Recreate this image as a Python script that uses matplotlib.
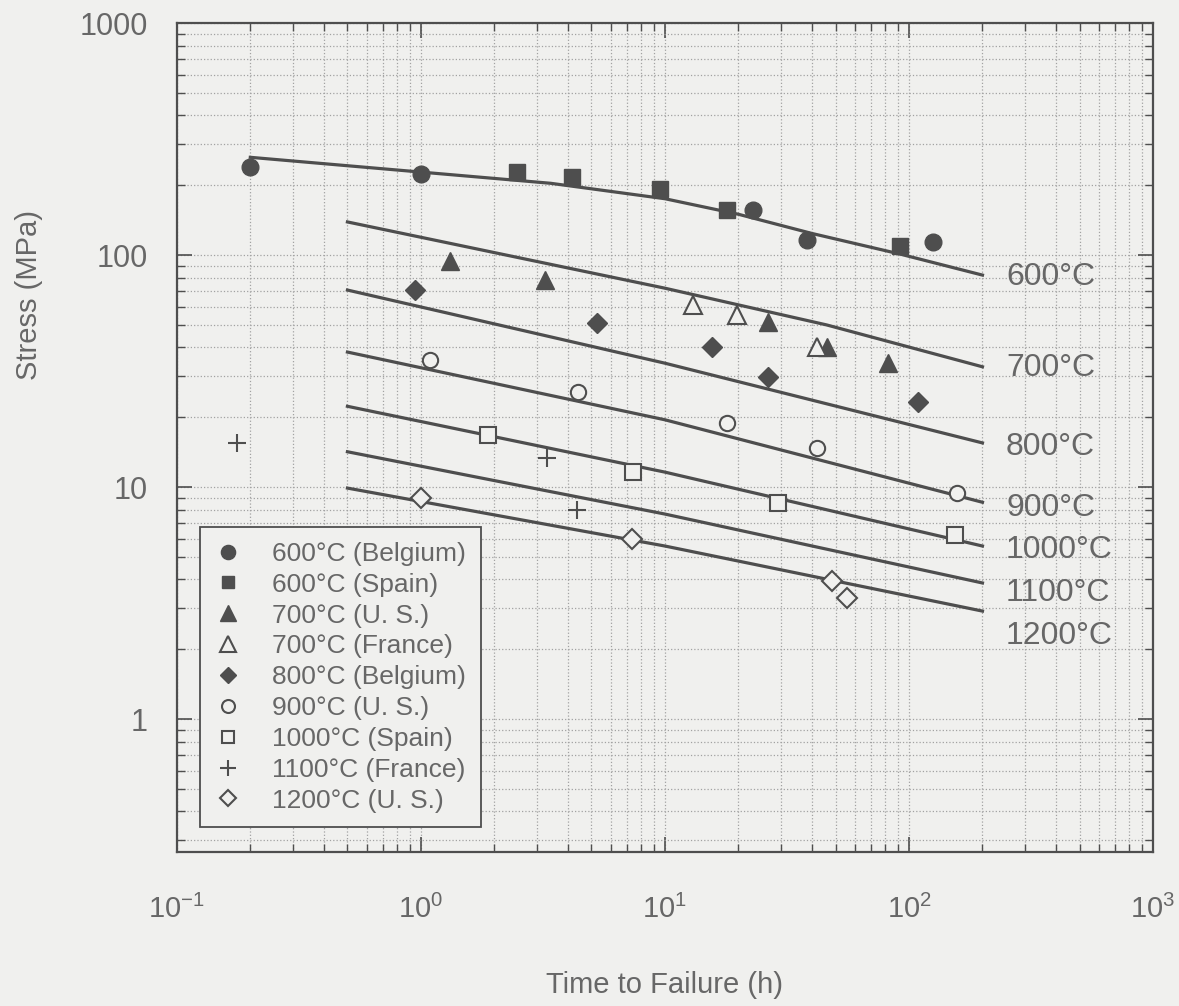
import math
import matplotlib
matplotlib.use("Agg")
import matplotlib.pyplot as plt
from matplotlib.ticker import LogLocator, FixedLocator, FuncFormatter, NullFormatter

plt.rcParams['font.family'] = ['Liberation Sans', 'DejaVu Sans']
plt.rcParams['mathtext.fontset'] = 'custom'
plt.rcParams['mathtext.rm'] = 'Liberation Sans'

# --- Curvas ajustadas (tiempo h, esfuerzo MPa) ---
curve_labels = ["600°C", "700°C", "800°C", "900°C", "1000°C", "1100°C", "1200°C"]
curve_t = [
    [0.2, 1.0, 3.4, 10, 20, 40, 92, 200],
    [0.5, 10, 46, 200],
    [0.5, 10, 200],
    [0.5, 10, 200],
    [0.5, 10, 200],
    [0.5, 10, 200],
    [0.5, 10, 200],
]
curve_s = [
    [264, 228, 204, 175, 150, 124, 101, 82],
    [139, 72, 50, 33],
    [70.7, 34.2, 15.5],
    [38.2, 19.5, 8.6],
    [22.3, 11.6, 5.57],
    [14.2, 7.65, 3.86],
    [9.9, 5.57, 2.92],
]

# --- Datos experimentales ---
series_labels = ["600°C (Belgium)", "600°C (Spain)", "700°C (U. S.)", "700°C (France)",
                 "800°C (Belgium)", "900°C (U. S.)", "1000°C (Spain)", "1100°C (France)",
                 "1200°C (U. S.)"]
series_t = [
    [0.2, 1.0, 22.9, 38.2, 125],
    [2.47, 4.16, 9.55, 17.9, 91.8],
    [1.31, 3.22, 26.5, 46.1, 82],
    [13.0, 19.7, 42],
    [0.945, 5.26, 15.6, 26.4, 109],
    [1.09, 4.4, 17.9, 42, 157],
    [1.88, 7.4, 29, 154],
    [0.176, 3.28, 4.36],
    [1.0, 7.33, 48.3, 55.7],
]
series_s = [
    [239, 223, 156, 116, 114],
    [228, 217, 192, 156, 110],
    [94, 78, 51.4, 40.1, 34.2],
    [60.8, 55, 40.1],
    [70.7, 50.9, 40, 29.8, 23.2],
    [35.2, 25.6, 18.9, 14.7, 9.42],
    [16.8, 11.6, 8.5, 6.2],
    [15.5, 13.3, 7.96],
    [9.0, 5.97, 3.94, 3.33],
]

fondo = '#f0f0ee'
gris = '#4e4e4e'
texto = '#676767'

# marcador, relleno, tamaño
estilos = [('o', True, 12), ('s', True, 11), ('^', True, 13), ('^', False, 13),
           ('D', True, 10), ('o', False, 11), ('s', False, 11), ('+', True, 13),
           ('D', False, 10)]
label_dy = [-1.4, -0.7, -2.9, -4.3, -2.9, -7.2, -18]


def generar_grafica():
    fig = plt.figure(figsize=(11.79, 10.06), dpi=100, facecolor=fondo)
    ax = fig.add_axes([0.150, 0.153, 0.828, 0.824], facecolor=fondo)

    ax.set_xscale('log')
    ax.set_yscale('log')
    ax.set_xlim(0.1, 1000)
    ax.set_ylim(0.267, 1000)

    # curvas
    for lab, t, s, dy in zip(curve_labels, curve_t, curve_s, label_dy):
        ax.plot(t, s, color=gris, linewidth=2.3, zorder=3)
        ax.annotate(lab, xy=(t[-1], s[-1]), xytext=(17, dy), textcoords='offset points',
                    va='center', ha='left', fontsize=23, color=texto, zorder=4)

    # puntos
    for lab, t, s, (m, lleno, ms) in zip(series_labels, series_t, series_s, estilos):
        if m == '+':
            ax.plot(t, s, linestyle='none', marker=m, markersize=ms, color=gris,
                    markeredgewidth=1.5, label=lab, zorder=5)
        elif lleno:
            ax.plot(t, s, linestyle='none', marker=m, markersize=ms, color=gris,
                    markeredgecolor=gris, label=lab, zorder=5)
        else:
            ax.plot(t, s, linestyle='none', marker=m, markersize=ms, markerfacecolor=fondo,
                    markeredgecolor=gris, markeredgewidth=1.5, label=lab, zorder=5)

    # ejes y rejilla
    ax.xaxis.set_major_locator(LogLocator(base=10, numticks=10))
    ax.xaxis.set_major_formatter(
        FuncFormatter(lambda v, p: r'$\mathdefault{10^{%d}}$' % round(math.log10(v))))
    ax.xaxis.set_minor_locator(LogLocator(base=10, subs=range(2, 10), numticks=50))
    ax.xaxis.set_minor_formatter(NullFormatter())
    ax.yaxis.set_major_locator(FixedLocator([1, 10, 100, 1000]))
    ax.yaxis.set_major_formatter(FuncFormatter(lambda v, p: '%g' % v))
    ax.yaxis.set_minor_locator(LogLocator(base=10, subs=range(2, 10), numticks=50))
    ax.yaxis.set_minor_formatter(NullFormatter())

    ax.grid(True, which='both', linestyle=':', color='#a2a2a2', linewidth=0.9, zorder=0)
    ax.tick_params(which='both', direction='in', top=True, right=True, color=gris)
    ax.tick_params(which='major', length=11, width=1.2)
    ax.tick_params(which='minor', length=6, width=1.0)
    ax.tick_params(axis='x', labelsize=21, labelcolor=texto, pad=31)
    ax.tick_params(axis='y', labelsize=22, labelcolor=texto, pad=21)
    for sp in ax.spines.values():
        sp.set_color(gris)
        sp.set_linewidth(1.6)

    ax.set_xlabel("Time to Failure (h)", fontsize=21, color=texto)
    ax.set_ylabel("Stress (MPa)", fontsize=21, color=texto)
    ax.xaxis.set_label_coords(0.5, -0.143)
    ax.yaxis.set_label_coords(-0.137, 0.672)

    leg = ax.legend(loc='lower left', bbox_to_anchor=(0.0236, 0.030), borderaxespad=0,
                    fontsize=19, frameon=True, fancybox=False, framealpha=1,
                    facecolor=fondo, edgecolor=gris, labelspacing=0.26,
                    handlelength=1.0, handletextpad=1.2, markerscale=0.85,
                    borderpad=0.55)
    leg.get_frame().set_linewidth(1.3)
    leg.set_zorder(10)
    for t in leg.get_texts():
        t.set_color(texto)

    fig.savefig("out.png", dpi=100, facecolor=fondo)


if __name__ == "__main__":
    generar_grafica()
